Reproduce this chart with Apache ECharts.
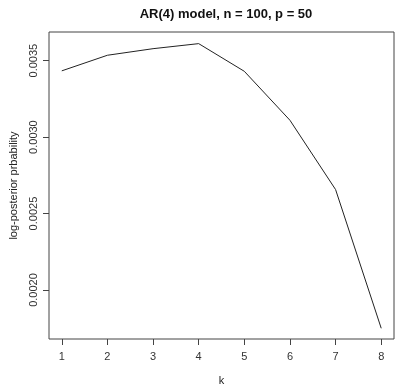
<!DOCTYPE html>
<html>
<head>
<meta charset="utf-8">
<script src="https://cdn.jsdelivr.net/npm/echarts@6/dist/echarts.min.js"></script>
<style>
  html, body { margin: 0; padding: 0; background: #fff; }
  #chart { width: 399px; height: 391px; }
</style>
</head>
<body>
<div id="chart"></div>
<script>
  // values
  const kValues = [1, 2, 3, 4, 5, 6, 7, 8];
  const logPost = [0.003433, 0.003535, 0.003578, 0.003611, 0.003430, 0.003110, 0.002657, 0.001750];
  const xTicks = [1, 2, 3, 4, 5, 6, 7, 8];
  const yTicks = [0.0020, 0.0025, 0.0030, 0.0035];

  const chart = echarts.init(document.getElementById('chart'));
  const fontFam = 'Liberation Sans, Arial, sans-serif';

  const option = {
    animation: false,
    title: {
      text: 'AR(4) model, n = 100, p = 50',
      left: 221,
      top: 3,
      textAlign: 'center',
      textStyle: { fontFamily: fontFam, fontSize: 13, fontWeight: 'bold', color: '#111' }
    },
    grid: {
      left: 49, right: 5, top: 32, bottom: 51,
      show: true,
      borderColor: '#444',
      borderWidth: 1
    },
    xAxis: {
      type: 'value',
      min: 0.72,
      max: 8.28,
      name: 'k',
      nameLocation: 'middle',
      nameGap: 36,
      nameTextStyle: { fontFamily: fontFam, fontSize: 11, color: '#222' },
      splitLine: { show: false },
      axisLine: { show: false },
      axisTick: {
        show: true, length: 6, inside: false,
        customValues: xTicks,
        lineStyle: { color: '#444' }
      },
      axisLabel: {
        customValues: xTicks,
        margin: 12,
        fontFamily: fontFam, fontSize: 11, color: '#333'
      }
    },
    yAxis: {
      type: 'value',
      min: 0.00168,
      max: 0.003687,
      name: 'log-posterior prbability',
      nameLocation: 'middle',
      nameRotate: 90,
      nameGap: 30,
      nameTextStyle: { fontFamily: fontFam, fontSize: 11, color: '#222' },
      splitLine: { show: false },
      axisLine: { show: false },
      axisTick: {
        show: true, length: 6, inside: false,
        customValues: yTicks,
        lineStyle: { color: '#444' }
      },
      axisLabel: {
        customValues: yTicks,
        rotate: 90,
        margin: 10,
        fontFamily: fontFam, fontSize: 11, color: '#333',
        formatter: v => v.toFixed(4)
      }
    },
    series: [
      {
        type: 'line',
        data: kValues.map((k, i) => [k, logPost[i]]),
        showSymbol: false,
        lineStyle: { color: '#222', width: 1 }
      }
    ]
  };
  chart.setOption(option);
</script>
</body>
</html>
